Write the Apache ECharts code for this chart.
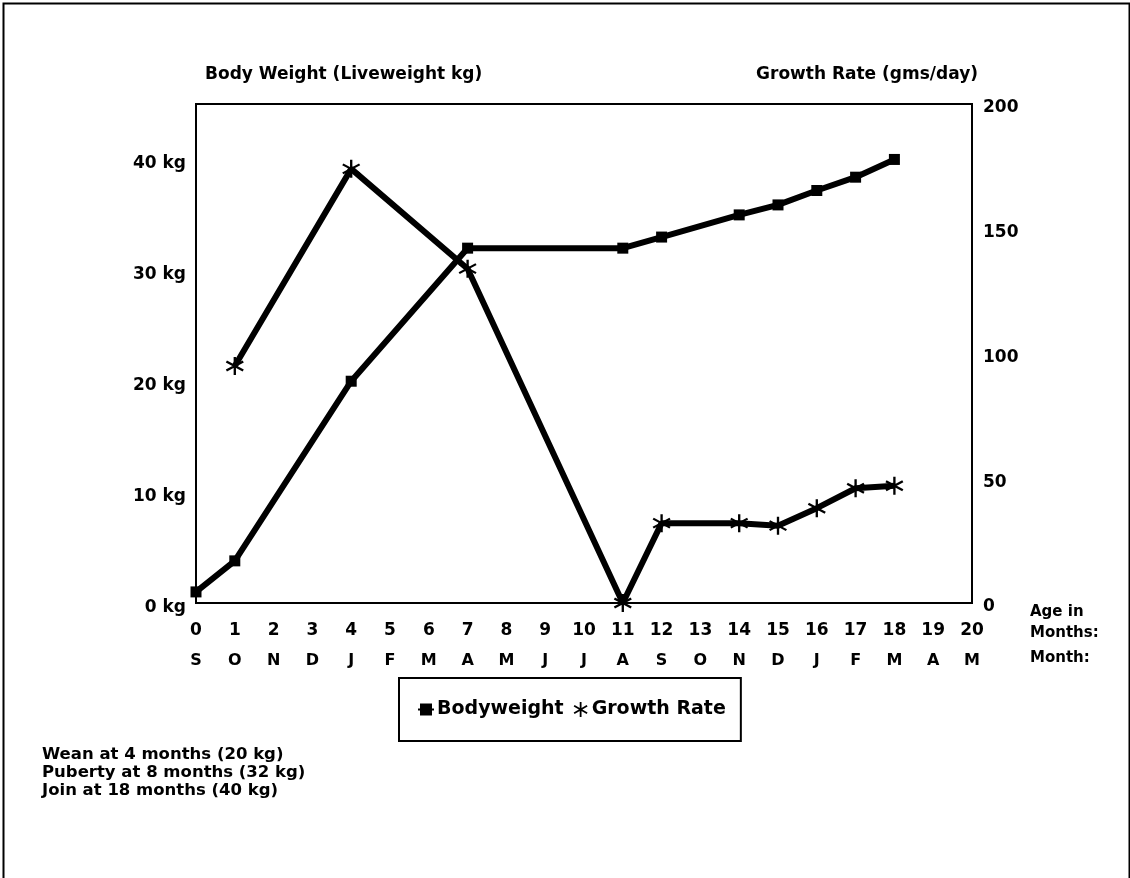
<!DOCTYPE html>
<html>
<head>
<meta charset="utf-8">
<script src="https://cdn.jsdelivr.net/npm/echarts@6/dist/echarts.min.js"></script>
<style>
html,body{margin:0;padding:0;background:#fff;}
#chart{width:1130px;height:878px;}
</style>
</head>
<body>
<div id="chart"></div>
<script>
const ageLabels = ['0','1','2','3','4','5','6','7','8','9','10','11','12','13','14','15','16','17','18','19','20'];
const monthLabels = ['S','O','N','D','J','F','M','A','M','J','J','A','S','O','N','D','J','F','M','A','M'];
const bodyweightAges = [0, 1, 4, 7, 11, 12, 14, 15, 16, 17, 18];
const bodyweightKg = [1, 3.8, 20, 32, 32, 33, 35, 35.9, 37.2, 38.4, 40];
const growthAges = [1, 4, 7, 11, 12, 14, 15, 16, 17, 18];
const growthGmsDay = [95, 174, 134, 0, 32, 32, 31, 38, 46, 47];
const leftTicks = [0, 10, 20, 30, 40];
const rightTicks = [0, 50, 100, 150, 200];
const notes = ['Wean at 4 months (20 kg)', 'Puberty at 8 months (32 kg)', 'Join at 18 months (40 kg)'];

const FONT = 'DejaVu Sans';
const asterisk = 'path://M-0.12,-1L0.12,-1L0.12,1L-0.12,1Z' +
  'M-0.926,-0.396L-0.806,-0.604L0.926,0.396L0.806,0.604Z' +
  'M-0.806,0.604L-0.926,0.396L0.806,-0.604L0.926,-0.396Z';

const chart = echarts.init(document.getElementById('chart'));
const txt = {fontFamily: FONT, fontWeight: 'bold', fontSize: 17, color: '#000'};

chart.setOption({
  backgroundColor: '#fff',
  animation: false,
  grid: {left: 196, right: 158, top: 104, bottom: 275, show: true, borderColor: '#000', borderWidth: 2, backgroundColor: 'transparent'},
  xAxis: [
    {type: 'category', data: ageLabels, boundaryGap: false, gridIndex: 0,
     axisLine: {show: true, lineStyle: {color: '#000', width: 2}}, axisTick: {show: false},
     axisLabel: Object.assign({margin: 19, interval: 0}, txt), splitLine: {show: false}},
    {type: 'category', data: monthLabels, boundaryGap: false, gridIndex: 0, position: 'bottom', offset: 36,
     axisLine: {show: false}, axisTick: {show: false},
     axisLabel: Object.assign({margin: 14, interval: 0}, txt, {fontSize: 16}), splitLine: {show: false}}
  ],
  yAxis: [
    {type: 'value', min: leftTicks[0], max: 45, interval: 10, position: 'left',
     axisLine: {show: true, lineStyle: {color: '#000', width: 2}}, axisTick: {show: false}, splitLine: {show: false},
     axisLabel: Object.assign({margin: 10, showMaxLabel: false, verticalAlign: 'top', lineHeight: 9, formatter: v => leftTicks.indexOf(v) >= 0 ? v + ' kg' : ''}, txt)},
    {type: 'value', min: rightTicks[0], max: rightTicks[rightTicks.length - 1], interval: 50, position: 'right',
     axisLine: {show: true, lineStyle: {color: '#000', width: 2}}, axisTick: {show: false}, splitLine: {show: false},
     axisLabel: Object.assign({margin: 11, verticalAlign: 'top', lineHeight: 8}, txt)}
  ],
  legend: {
    left: 399, top: 678, orient: 'horizontal',
    padding: [22, 15, 22, 18],
    borderColor: '#000', borderWidth: 2, backgroundColor: '#fff',
    itemGap: 10, itemWidth: 16, itemHeight: 15,
    textStyle: {fontFamily: FONT, fontWeight: 'bold', fontSize: 19, color: '#000', padding: [0, 0, 0, -2]},
    data: [{name: 'Bodyweight'}, {name: 'Growth Rate', icon: asterisk}]
  },
  graphic: [
    {type: 'rect', left: 1, top: 1, shape: {width: 1126, height: 900}, style: {fill: 'none', stroke: '#000', lineWidth: 2}, silent: true},
    {type: 'text', left: 205, top: 66, style: Object.assign({text: 'Body Weight (Liveweight kg)'}, txt, {fill: '#000'})},
    {type: 'text', right: 152, top: 66, style: Object.assign({text: 'Growth Rate (gms/day)', align: 'right'}, txt, {fill: '#000'})},
    {type: 'text', left: 1030, top: 602, style: Object.assign({text: 'Age in\nMonths:', lineHeight: 21}, txt, {fill: '#000', fontSize: 15})},
    {type: 'text', left: 1030, top: 651, style: Object.assign({text: 'Month:'}, txt, {fill: '#000', fontSize: 15})},
    {type: 'text', left: 42, top: 746, style: Object.assign({text: notes.join('\n'), lineHeight: 18}, txt, {fill: '#000', fontSize: 16.5})}
  ],
  series: [
    {name: 'Bodyweight', type: 'line', xAxisIndex: 0, yAxisIndex: 0,
     data: bodyweightAges.map((a, i) => [a, bodyweightKg[i]]),
     symbol: 'rect', symbolSize: 11, showAllSymbol: true,
     lineStyle: {color: '#000', width: 6}, itemStyle: {color: '#000'}, z: 3},
    {name: 'Growth Rate', type: 'line', xAxisIndex: 0, yAxisIndex: 1,
     data: growthAges.map((a, i) => [a, growthGmsDay[i]]),
     symbol: asterisk, symbolSize: [18, 18], showAllSymbol: true,
     lineStyle: {color: '#000', width: 6}, itemStyle: {color: '#000'}, z: 2}
  ]
});
</script>
</body>
</html>
